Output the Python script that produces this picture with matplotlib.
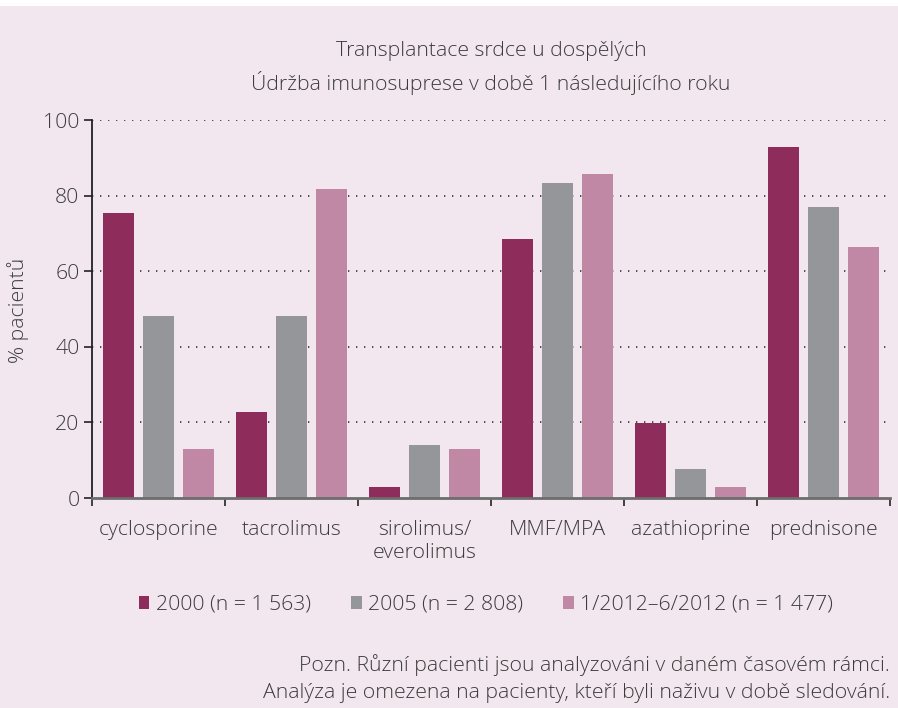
import matplotlib
matplotlib.use("Agg")
import matplotlib.pyplot as plt
import numpy as np
from matplotlib.patches import Rectangle

plt.rcParams['font.family'] = ['Open Sans', 'DejaVu Sans']
plt.rcParams['font.weight'] = 'light'

categories = ["cyclosporine", "tacrolimus", "sirolimus/\neverolimus", "MMF/MPA", "azathioprine", "prednisone"]
series_names = ["2000 (n = 1 563)", "2005 (n = 2 808)", "1/2012–6/2012 (n = 1 477)"]
vals_2000 = [75.4, 22.8, 2.9, 68.5, 19.8, 92.9]
vals_2005 = [48.1, 48.1, 14.0, 83.3, 7.7, 77.0]
vals_2012 = [13.0, 81.7, 13.0, 85.7, 2.9, 66.4]
colors = ["#8e2c5c", "#959699", "#c088a4"]

BG = "#f2e7ee"
TXT = "#3c3c3c"
FS = 15.3

fig = plt.figure(figsize=(8.98, 7.08), dpi=100)
fig.patch.set_facecolor(BG)
# white strip at the top
fig.patches.append(Rectangle((0, 1 - 6 / 708), 1, 6 / 708, transform=fig.transFigure,
                             facecolor="white", edgecolor="none", zorder=0))

ax = fig.add_axes([92 / 898, 1 - 498 / 708, 798 / 898, 378 / 708])
ax.set_facecolor(BG)

x = np.arange(len(categories))
off = 0.30
w = 0.23
for i, (vals, c) in enumerate(zip([vals_2000, vals_2005, vals_2012], colors)):
    ax.bar(x + (i - 1) * off, vals, width=w, color=c, label=series_names[i], zorder=3)

ax.set_xlim(-0.5, len(categories) - 0.5)
ax.set_ylim(0, 100)
ax.set_yticks([0, 20, 40, 60, 80, 100])
for yv in [20, 40, 60, 80, 100]:
    ax.axhline(yv, color="#333333", lw=1.2, linestyle=(0, (0.8, 4)), zorder=1)

ax.spines['top'].set_visible(False)
ax.spines['right'].set_visible(False)
ax.spines['left'].set_color("#222222")
ax.spines['left'].set_linewidth(1.3)
ax.spines['bottom'].set_color("#6d6d6d")
ax.spines['bottom'].set_linewidth(2)
ax.spines['bottom'].set_zorder(4)

ax.set_xticks(x)
ax.set_xticklabels(categories, fontsize=FS, color=TXT, linespacing=1.2)
ax.set_xticks(np.arange(-0.5, len(categories), 1.0), minor=True)
ax.tick_params(axis='x', which='major', length=0, pad=16)
ax.tick_params(axis='x', which='minor', length=6, width=1.3, color="#333333", direction='out')
ax.tick_params(axis='y', length=6, width=1.3, color="#333333", labelsize=FS, labelcolor=TXT, pad=3)

fig.text(18 / 898, 1 - 310 / 708, "% pacientů", rotation=90, ha='center', va='center',
         fontsize=FS, color=TXT)

fig.text(491 / 898, 1 - 51 / 708, "Transplantace srdce u dospělých", ha='center', va='center',
         fontsize=FS, color=TXT)
fig.text(491 / 898, 1 - 83 / 708, "Údržba imunosuprese v době 1 následujícího roku", ha='center',
         va='center', fontsize=FS, color=TXT)

handles, labels = ax.get_legend_handles_labels()
leg = fig.legend(handles, labels, loc='center', bbox_to_anchor=(486 / 898, 1 - 605 / 708), ncol=3,
                 frameon=False, fontsize=FS, handlelength=0.5, handleheight=0.5,
                 handletextpad=0.3, columnspacing=1.9)
for t in leg.get_texts():
    t.set_color(TXT)

fig.text(890 / 898, 1 - 665 / 708, "Pozn. Různí pacienti jsou analyzováni v daném časovém rámci.",
         ha='right', va='center', fontsize=FS, color=TXT)
fig.text(890 / 898, 1 - 693 / 708, "Analýza je omezena na pacienty, kteří byli naživu v době sledování.",
         ha='right', va='center', fontsize=FS, color=TXT)

fig.savefig("out.png", dpi=100, facecolor=BG)
